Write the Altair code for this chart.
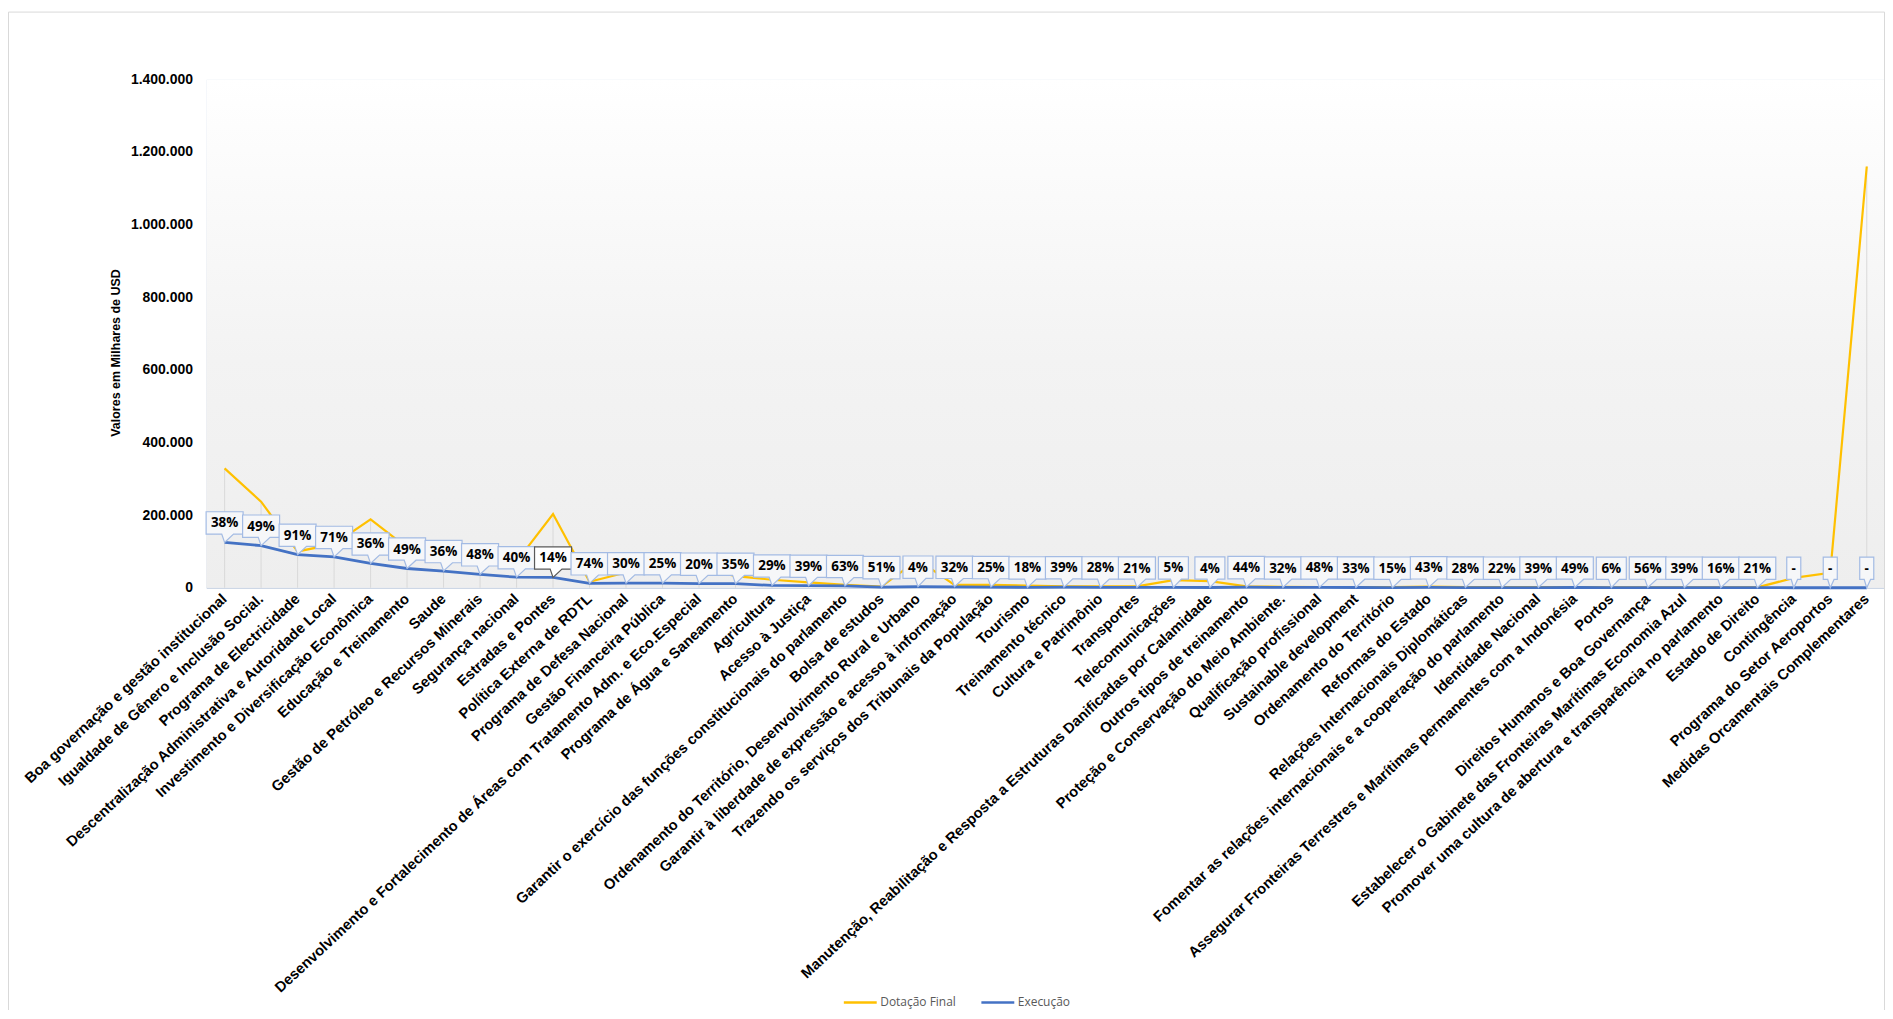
import altair as alt
import pandas as pd

categories = [
    "Boa governação e gestão institucional",
    "Igualdade de Gênero e Inclusão Social.",
    "Programa de Electricidade",
    "Descentralização Administrativa e Autoridade Local",
    "Investimento e Diversificação Econômica",
    "Educação e Treinamento",
    "Saude",
    "Gestão de Petróleo e Recursos Minerais",
    "Segurança nacional",
    "Estradas e Pontes",
    "Política Externa de RDTL",
    "Programa de Defesa Nacional",
    "Gestão Financeira Pública",
    "Desenvolvimento e Fortalecimento de Áreas com Tratamento Adm. e Eco.Especial",
    "Programa de Água e Saneamento",
    "Agricultura",
    "Acesso à Justiça",
    "Garantir o exercício das funções constitucionais do parlamento",
    "Bolsa de estudos",
    "Ordenamento do Território, Desenvolvimento Rural e Urbano",
    "Garantir à liberdade de expressão e acesso à informação",
    "Trazendo os serviços dos Tribunais da População",
    "Tourismo",
    "Treinamento técnico",
    "Cultura e Patrimônio",
    "Transportes",
    "Telecomunicações",
    "Manutenção, Reabilitação e Resposta a Estruturas Danificadas por Calamidade",
    "Outros tipos de treinamento",
    "Proteção e Conservação do Meio Ambiente.",
    "Qualificação profissional",
    "Sustainable development",
    "Ordenamento do Território",
    "Reformas do Estado",
    "Relações Internacionais Diplomáticas",
    "Fomentar as relações internacionais e a cooperação do parlamento",
    "Identidade Nacional",
    "Assegurar Fronteiras Terrestres e Marítimas permanentes com a Indonésia",
    "Portos",
    "Direitos Humanos e Boa Governança",
    "Estabelecer o Gabinete das Fronteiras Marítimas Economia Azul",
    "Promover uma cultura de abertura e transparência no parlamento",
    "Estado de Direito",
    "Contingência",
    "Programa do Setor Aeroportos",
    "Medidas Orcamentais Complementares",
]

dotacao = [328600, 237000, 100000, 120000, 188600, 110700, 127000, 77000, 72000, 203000,
           16500, 42000, 50000, 57000, 32000, 22000, 14600, 8000, 3500, 77000,
           8000, 8000, 6000, 4000, 4000, 4000, 21000, 18000, 4000, 2500,
           2000, 2000, 2000, 3000, 2000, 1500, 1500, 1500, 1000, 1000,
           1000, 1000, 1000, 27000, 41000, 1160000]

execucao = [125000, 116000, 91000, 85000, 67000, 53000, 46000, 37000, 29000, 28500,
            12200, 12600, 12500, 11400, 11200, 6400, 5700, 5000, 1800, 3100,
            2600, 2000, 1100, 1600, 1100, 800, 1100, 700, 1800, 800,
            1000, 700, 300, 1300, 600, 300, 600, 700, 100, 600,
            400, 200, 200, 0, 0, 0]

pct_labels = ["38%", "49%", "91%", "71%", "36%", "49%", "36%", "48%", "40%", "14%",
              "74%", "30%", "25%", "20%", "35%", "29%", "39%", "63%", "51%", "4%",
              "32%", "25%", "18%", "39%", "28%", "21%", "5%", "4%", "44%", "32%",
              "48%", "33%", "15%", "43%", "28%", "22%", "39%", "49%", "6%", "56%",
              "39%", "16%", "21%", "-", "-", "-"]

series_names = ["Dotação Final", "Execução"]
series_colors = ["#FFC000", "#4472C4"]
y_ticks = [0, 200000, 400000, 600000, 800000, 1000000, 1200000, 1400000]

W, H = 1684, 510


def kind_of(lbl):
    if lbl == "14%":
        return "dark"
    if lbl == "-":
        return "w0"
    if len(lbl) == 2:
        return "w1"
    return "w2"


df = pd.DataFrame({
    "cat": categories,
    "idx": list(range(len(categories))),
    "dot": dotacao,
    "exe": execucao,
    "lbl": pct_labels,
})
df["zero"] = 0
df["kind"] = [kind_of(l) for l in pct_labels]

long = pd.DataFrame({
    "cat": categories + categories,
    "idx": list(range(len(categories))) * 2,
    "serie": [series_names[0]] * len(categories) + [series_names[1]] * len(categories),
    "valor": dotacao + execucao,
})

xaxis = alt.Axis(title=None, labelAngle=-43, labelAlign="right", labelBaseline="middle",
                 labelFont="Liberation Sans", labelFontWeight="bold", labelFontSize=14.8,
                 labelColor="black", labelLimit=1000, labelOverlap=False, labelPadding=9,
                 labelBound=False, ticks=False, domainColor="#cdd7e6", domainWidth=1.5,
                 grid=False)
xenc = alt.X("cat:N", sort=categories, scale=alt.Scale(type="point", padding=0.5), axis=xaxis)

yscale = alt.Scale(domain=[0, 1400000], nice=False)
yaxis = alt.Axis(title="Valores em Milhares de USD", values=y_ticks, format=",d",
                 labelExpr="replace(replace(datum.label, ',', '.'), ',', '.')",
                 labelFont="Liberation Sans", labelFontWeight="bold", labelFontSize=14,
                 labelColor="black", labelPadding=14, ticks=False, domain=False, grid=False,
                 titleFont="Liberation Sans", titleFontWeight="bold", titleFontSize=12.5,
                 titleColor="black", titleAngle=-90, titleX=-91, titleY=274,
                 titleAlign="center", titleBaseline="middle")

one = pd.DataFrame({"a": [0]})

bg = alt.Chart(one).mark_rect(
    fill={"gradient": "linear", "x1": 0, "x2": 0, "y1": 0, "y2": 1,
          "stops": [{"offset": 0, "color": "#ffffff"},
                    {"offset": 0.55, "color": "#f3f3f3"},
                    {"offset": 1, "color": "#eeeeee"}]}
).encode(x=alt.value(0), x2=alt.value(W), y=alt.value(0), y2=alt.value(H))

frame = alt.Chart(one).mark_rect(fillOpacity=0, stroke="#d9d9d9", strokeWidth=1).encode(
    x=alt.value(-198.5), x2=alt.value(W - 0.5), y=alt.value(-67.5), y2=alt.value(H + 600))

base = alt.Chart(df)

rules = base.mark_rule(color="#d9d9d9", strokeWidth=1).encode(
    x=xenc, y=alt.Y("dot:Q", scale=yscale, axis=yaxis), y2="zero:Q")

color_scale = alt.Scale(domain=series_names, range=series_colors)
legend = alt.Legend(title=None, orient="none", legendX=638, legendY=908, direction="horizontal",
                    symbolType="stroke", symbolSize=1089, symbolStrokeWidth=2.5,
                    labelFont="Open Sans", labelFontSize=12, labelColor="#595959",
                    labelOffset=2, columnPadding=20)

line_dot = alt.Chart(long).transform_filter(alt.datum.serie == series_names[0]).mark_line(
    strokeWidth=2.2).encode(
    x=xenc, y=alt.Y("valor:Q", scale=yscale, axis=yaxis),
    color=alt.Color("serie:N", scale=color_scale, legend=legend),
    order=alt.Order("idx:Q"))
line_exe = alt.Chart(long).transform_filter(alt.datum.serie == series_names[1]).mark_line(
    strokeWidth=2.8).encode(
    x=xenc, y=alt.Y("valor:Q", scale=yscale, axis=yaxis),
    color=alt.Color("serie:N", scale=color_scale, legend=legend),
    order=alt.Order("idx:Q"))

p2 = "M -0.58 -0.96 L 0.58 -0.96 L 0.58 -0.26 L 0.28 -0.26 L 0 0 L -0.09 -0.26 L -0.58 -0.26 Z"
p1 = "M -0.47 -0.96 L 0.47 -0.96 L 0.47 -0.26 L 0.25 -0.26 L 0 0 L -0.09 -0.26 L -0.47 -0.26 Z"
p0 = "M -0.22 -0.96 L 0.22 -0.96 L 0.22 -0.26 L 0.12 -0.26 L 0 0 L -0.08 -0.26 L -0.22 -0.26 Z"
kinds = ["w2", "w1", "w0", "dark"]

callouts = base.mark_point(filled=True, opacity=1, size=4096, strokeWidth=1.2).encode(
    x=xenc, y=alt.Y("exe:Q", scale=yscale, axis=yaxis),
    shape=alt.Shape("kind:N", scale=alt.Scale(domain=kinds, range=[p2, p1, p0, p2]), legend=None),
    fill=alt.Fill("kind:N", scale=alt.Scale(domain=kinds, range=["#f6f7f9", "#f6f7f9", "#f6f7f9", "#ffffff"]), legend=None),
    stroke=alt.Stroke("kind:N", scale=alt.Scale(domain=kinds, range=["#a3bbe4", "#a3bbe4", "#a3bbe4", "#595959"]), legend=None),
)

texts = base.mark_text(dy=-19, font="Open Sans", fontWeight="bold", fontSize=13.5,
                       color="black", align="center", baseline="middle").encode(
    x=xenc, y=alt.Y("exe:Q", scale=yscale, axis=yaxis), text="lbl:N")

chart = alt.layer(bg, frame, rules, line_dot, line_exe, callouts, texts).resolve_scale(
    shape="independent", fill="independent", stroke="independent"
).properties(
    width=W, height=H,
    autosize=alt.AutoSizeParams(type="none"),
    padding={"left": 199, "top": 70, "right": 0, "bottom": 422},
    background="white",
).configure_view(stroke="#d6e0ef", strokeWidth=1)

chart.save("out.html", embed_options={"renderer": "svg", "actions": False})
